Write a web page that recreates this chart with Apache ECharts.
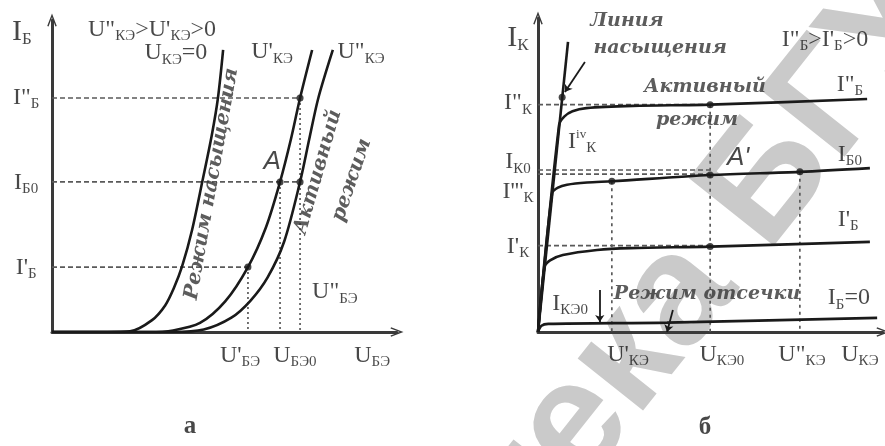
<!DOCTYPE html>
<html>
<head>
<meta charset="utf-8">
<script src="https://cdn.jsdelivr.net/npm/echarts@6/dist/echarts.min.js"></script>
<style>
  html, body { margin: 0; background: #fff; }
  #chart { width: 885px; height: 446px; }
</style>
</head>
<body>
<div id="chart"></div>
<script>
// ---- а) входные характеристики, условные единицы 0..100 ----
const inCurveZero = [[0, 0], [16, 0], [22.6, 0.2], [29, 3.8], [32.8, 8.5], [35.3, 14], [37.7, 21], [40.6, 32.7], [43.6, 48.4], [46.3, 63], [48.1, 75], [49.6, 90.4]]
const inCurveOne = [[0, 0], [28, 0], [35.1, 0.5], [42.9, 2.9], [50.2, 9.8], [56.8, 20.8], [62, 33.5], [66.1, 48.1], [69.3, 62], [71.9, 75], [75.4, 90.4]]
const inCurveTwo = [[0, 0], [35, 0], [44, 0.8], [52, 4.6], [57.5, 10], [62.5, 17.5], [67.3, 29], [71.9, 48.1], [74.6, 62], [77.2, 75], [81.4, 90.4]]
const inLevels = [20.8, 48.1, 75]          // I'Б, IБ0, I"Б
const inVoltages = [56.8, 66.1, 71.9]      // U'БЭ, UБЭ0, U"БЭ
const inDots = [[56.8, 20.8], [66.1, 48.1], [71.9, 48.1], [71.9, 75]]

// ---- б) выходные характеристики ----
const satLine = [[0, 0], [8.7, 92.4]]
const outIb2 = [[0, 0], [6.1, 65.9], [7.6, 68.6], [10, 70.3], [14, 71.3], [27.5, 72], [49.9, 72.4], [95.4, 74.2]]
const outIb0 = [[0, 0], [4.1, 44.3], [5.8, 46], [8.4, 46.9], [14.2, 47.6], [21.4, 48], [49.9, 50], [75.9, 51], [96.2, 52.2]]
const outIb1 = [[0, 0], [1.9, 20.7], [3.5, 22.8], [7.2, 24.5], [17.1, 26.1], [26.7, 26.7], [49.9, 27.2], [96.2, 28.7]]
const outIbZero = [[0, 0], [1, 2], [3, 2.6], [37.4, 3], [98.3, 4.5]]
const outLevels = [27.5, 50.3, 51.6, 72.4]  // I'К, IК0 (двойная), I"К
const outVoltages = [[21.4, 48], [49.9, 72.4], [75.9, 51]]  // U'КЭ, UКЭ0, U"КЭ
const outDots = [[7, 74.8], [49.9, 72.4], [21.4, 48], [49.9, 50], [75.9, 51], [49.9, 27.2]]

// подписи: [x, y, текст]
const leftNotes = [
  [-8.7, 96, '{L|I}{Ls|Б}'],
  [29, 96.8, '{m|U"}{s|КЭ}{m|>U\'}{s|КЭ}{m|>0}'],
  [35.9, 89.4, '{m|U}{s|КЭ}{m|=0}'],
  [63.8, 89.7, "{m|U'}{s|КЭ}"],
  [89.6, 89.7, '{m|U"}{s|КЭ}'],
  [-7.5, 75, '{m|I"}{s|Б}'],
  [-7.5, 47.8, '{m|I}{s|Б0}'],
  [-7.5, 20.5, "{m|I'}{s|Б}"],
  [82, 12.8, '{m|U"}{s|БЭ}'],
  [54.5, -7.7, "{m|U'}{s|БЭ}"],
  [70.4, -7.7, '{m|U}{s|БЭ0}'],
  [92.8, -7.7, '{m|U}{s|БЭ}'],
  [40, -30.4, '{c|а}'],
  [63.8, 54.5, '{a|A}']
]
const leftItalic = [
  [46.3, 47.5, 80, 'Режим насыщения'],
  [77.1, 51.3, 74, 'Активный'],
  [86.9, 48.7, 71, 'режим']
]
const rightNotes = [
  [-5.8, 93.6, '{L|I}{Ls|К}'],
  [-5.8, 72.9, '{m|I"}{s|К}'],
  [-5.8, 54.1, '{m|I}{s|К0}'],
  [-5.8, 44.6, "{m|I'''}{s|К}"],
  [-5.8, 27.1, "{m|I'}{s|К}"],
  [83.2, 93, '{m|I"}{s|Б}{m|>I\'}{s|Б}{m|>0}'],
  [90.4, 78.7, '{m|I"}{s|Б}'],
  [90.4, 56.4, '{m|I}{s|Б0}'],
  [89.9, 35.7, "{m|I'}{s|Б}"],
  [90.1, 10.8, '{m|I}{s|Б}{m|=0}'],
  [12.8, 60.5, '{m|I}{sup|iv}{s|К}'],
  [9.3, 8.9, '{m|I}{s|КЭ0}'],
  [26.1, -7.3, "{m|U'}{s|КЭ}"],
  [53.3, -7.3, '{m|U}{s|КЭ0}'],
  [76.5, -7.3, '{m|U"}{s|КЭ}'],
  [93.3, -7.3, '{m|U}{s|КЭ}'],
  [48.4, -30.3, '{c|б}'],
  [58, 55.4, "{a|A'}"]
]
const rightItalic = [
  [25.8, 99, 0, 'Линия'],
  [35.4, 90.4, 0, 'насыщения'],
  [48.4, 78, 0, 'Активный'],
  [46.1, 67.5, 0, 'режим'],
  [49, 12.1, 0, 'Режим отсечки']
]
const rightPointers = [
  [[13.6, 86], [7.8, 76.4]],
  [[17.9, 13.4], [17.9, 3.2]],
  [[16.8, -6.4], [16.8, -1.9]],
  [[39.1, 7], [37.4, 0]]
]

const INK = '#1a1a1a'
const SERIF = 'Liberation Serif'
const rich = {
  m: { fontFamily: SERIF, fontSize: 24, color: INK, lineHeight: 28 },
  s: { fontFamily: SERIF, fontSize: 15, color: INK, lineHeight: 9, verticalAlign: 'bottom' },
  sup: { fontFamily: SERIF, fontSize: 13, color: INK, lineHeight: 12, verticalAlign: 'top' },
  L: { fontFamily: SERIF, fontSize: 30, color: INK, lineHeight: 32 },
  Ls: { fontFamily: SERIF, fontSize: 17, color: INK, lineHeight: 9, verticalAlign: 'bottom' },
  c: { fontFamily: SERIF, fontSize: 25, fontWeight: 'bold', color: INK },
  a: { fontFamily: 'Liberation Sans', fontStyle: 'italic', fontSize: 26, color: INK }
}
const ARROW = 'path://M0,13 L5,0 L10,13 L8.6,13.6 L5,4 L1.4,13.6 Z'

function axisPair(idx) {
  const common = {
    type: 'value', gridIndex: idx, min: 0, max: 100,
    axisLine: {
      show: true,
      onZero: false,
      symbol: ['none', ARROW],
      symbolSize: [11, 13],
      lineStyle: { color: '#3a3a3a', width: 3 }
    },
    axisTick: { show: false }, axisLabel: { show: false }, splitLine: { show: false }
  }
  return [common, common]
}

function curve(idx, data) {
  return {
    type: 'line', xAxisIndex: idx, yAxisIndex: idx, data,
    smooth: 0.3, showSymbol: false, silent: true, z: 4,
    lineStyle: { color: INK, width: 2.6 }
  }
}

function guide(idx, data, dash) {
  return {
    type: 'line', xAxisIndex: idx, yAxisIndex: idx, data,
    showSymbol: false, silent: true, z: 3,
    lineStyle: { color: '#5a5a5a', width: 1.7, type: dash }
  }
}

function dots(idx, data) {
  return {
    type: 'scatter', xAxisIndex: idx, yAxisIndex: idx, data,
    symbolSize: 7, itemStyle: { color: INK }, z: 5, silent: true
  }
}

function notes(idx, list) {
  return {
    type: 'scatter', xAxisIndex: idx, yAxisIndex: idx, clip: false, silent: true,
    symbolSize: 0, z: 6,
    data: list.map(n => ({
      value: [n[0], n[1]],
      label: { show: true, position: 'inside', formatter: n[2], rich }
    }))
  }
}

function italics(idx, list, size) {
  return {
    type: 'scatter', xAxisIndex: idx, yAxisIndex: idx, clip: false, silent: true,
    symbolSize: 0, z: 6,
    data: list.map(n => ({
      value: [n[0], n[1]],
      label: {
        show: true, position: 'inside', formatter: n[3], rotate: n[2],
        fontFamily: 'DejaVu Serif', fontStyle: 'italic', fontWeight: 'bold',
        fontSize: size, color: '#333'
      }
    }))
  }
}

const series = []
// левый график
series.push(curve(0, inCurveZero), curve(0, inCurveOne), curve(0, inCurveTwo))
series.push(guide(0, [[0, inLevels[2]], [inVoltages[2], inLevels[2]]], [5, 3]))
series.push(guide(0, [[0, inLevels[1]], [inVoltages[2], inLevels[1]]], [5, 3]))
series.push(guide(0, [[0, inLevels[0]], [inVoltages[0], inLevels[0]]], [5, 3]))
series.push(guide(0, [[inVoltages[0], inLevels[0]], [inVoltages[0], 0]], [2, 3]))
series.push(guide(0, [[inVoltages[1], inLevels[1]], [inVoltages[1], 0]], [2, 3]))
series.push(guide(0, [[inVoltages[2], inLevels[2]], [inVoltages[2], 0]], [2, 3]))
series.push(dots(0, inDots), notes(0, leftNotes), italics(0, leftItalic, 20))

// правый график
series.push(curve(1, satLine), curve(1, outIb2), curve(1, outIb0), curve(1, outIb1), curve(1, outIbZero))
outLevels.forEach(v => series.push(guide(1, [[0, v], [49.9, v]], [5, 3])))
outVoltages.forEach(p => series.push(guide(1, [p, [p[0], 0]], [3, 4])))
series.push(dots(1, outDots), notes(1, rightNotes), italics(1, rightItalic, 19))
series.push({
  type: 'lines', coordinateSystem: 'cartesian2d', xAxisIndex: 1, yAxisIndex: 1,
  silent: true, z: 5, symbol: ['none', 'arrow'], symbolSize: 7,
  lineStyle: { color: INK, width: 1.8, opacity: 1 },
  data: rightPointers.map(c => ({ coords: c }))
})

const [lx, ly] = axisPair(0)
const [rx, ry] = axisPair(1)

const chart = echarts.init(document.getElementById('chart'), null, { renderer: 'canvas' })
chart.setOption({
  animation: false,
  backgroundColor: '#fff',
  grid: [
    { left: 52, right: 488, top: 20, bottom: 114 },
    { left: 538, right: 2, top: 18, bottom: 114 }
  ],
  xAxis: [lx, rx],
  yAxis: [ly, ry],
  // водяной знак библиотеки
  graphic: [{
    type: 'text', z: -10, silent: true,
    x: 68, y: 938, rotation: 0.9,
    style: { text: 'Библиотека БГУИР', font: 'bold 158px "Liberation Sans"', fill: '#cacaca' }
  }],
  series
})
</script>
</body>
</html>
